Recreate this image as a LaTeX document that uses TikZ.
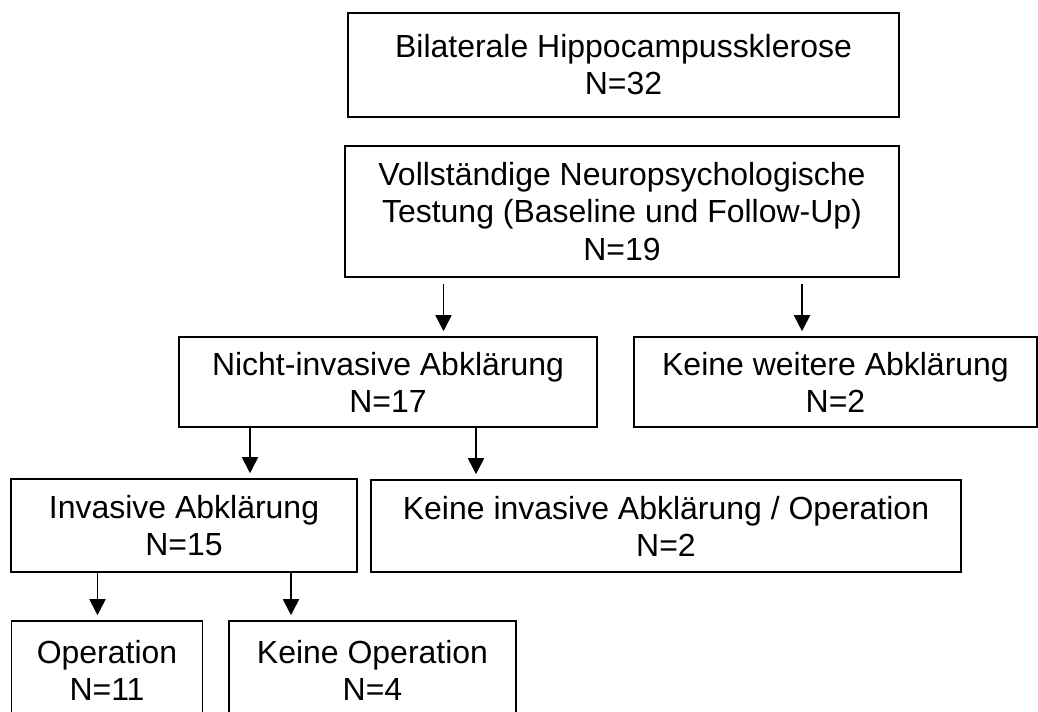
\documentclass[tikz,border=0pt]{standalone}
\usepackage{fontspec}
\setmainfont{Liberation Sans}
\usetikzlibrary{
    arrows.meta,
    positioning,
    calc
}

\begin{document}
\begin{tikzpicture}[
    font=\fontsize{18.2}{21.1}\selectfont,
    box/.style={draw=black,line width=0.9pt,align=center,inner sep=0pt},
    flow/.style={-{Triangle[width=0.32cm,length=0.32cm]},line width=1pt,shorten >=0.1cm}
]
    \useasboundingbox (0,0) rectangle (20.76,14.22);
    \clip (0,0) rectangle (20.76,14.22);

    % Patient flow: cohort, testing, work-up and surgery.
    \node[box,minimum width=11.02cm,minimum height=2.08cm] (bhs) at (12.47,12.92)
        {Bilaterale Hippocampussklerose\\N=32};
    \node[box,minimum width=11.08cm,minimum height=2.62cm] (test) at (12.44,9.99)
        {Vollständige Neuropsychologische\\Testung (Baseline und Follow-Up)\\N=19};

    \node[box,minimum width=8.36cm,minimum height=1.80cm] (nonInv) at (7.76,6.58)
        {Nicht-invasive Abklärung\\N=17};
    \node[box,minimum width=8.06cm,minimum height=1.80cm] (noFurther) at (16.71,6.58)
        {Keine weitere Abklärung\\N=2};

    \node[box,minimum width=6.92cm,minimum height=1.86cm] (inv) at (3.68,3.71)
        {Invasive Abklärung\\N=15};
    \node[box,minimum width=11.80cm,minimum height=1.84cm] (noInv) at (13.32,3.70)
        {Keine invasive Abklärung / Operation\\N=2};

    % bottom row runs off the page edge
    \node[box,minimum width=3.82cm,minimum height=1.96cm] (op) at (2.14,0.82)
        {Operation\\N=11};
    \node[box,minimum width=5.74cm,minimum height=1.96cm] (noOp) at (7.45,0.82)
        {Keine Operation\\N=4};

    % arrow positions
    \coordinate (s1) at (8.87,8.54);
    \coordinate (s2) at (16.04,8.54);
    \coordinate (x1) at (5.00,0);
    \coordinate (x2) at (9.52,0);
    \coordinate (x3) at (1.95,0);
    \coordinate (x4) at (5.82,0);

    \draw[flow] (s1) -- (nonInv.north -| s1);
    \draw[flow] (s2) -- (noFurther.north -| s2);
    \draw[flow] (nonInv.south -| x1) -- (inv.north -| x1);
    \draw[flow] (nonInv.south -| x2) -- (noInv.north -| x2);
    \draw[flow] (inv.south -| x3) -- (op.north -| x3);
    \draw[flow] (inv.south -| x4) -- (noOp.north -| x4);
\end{tikzpicture}
\end{document}
